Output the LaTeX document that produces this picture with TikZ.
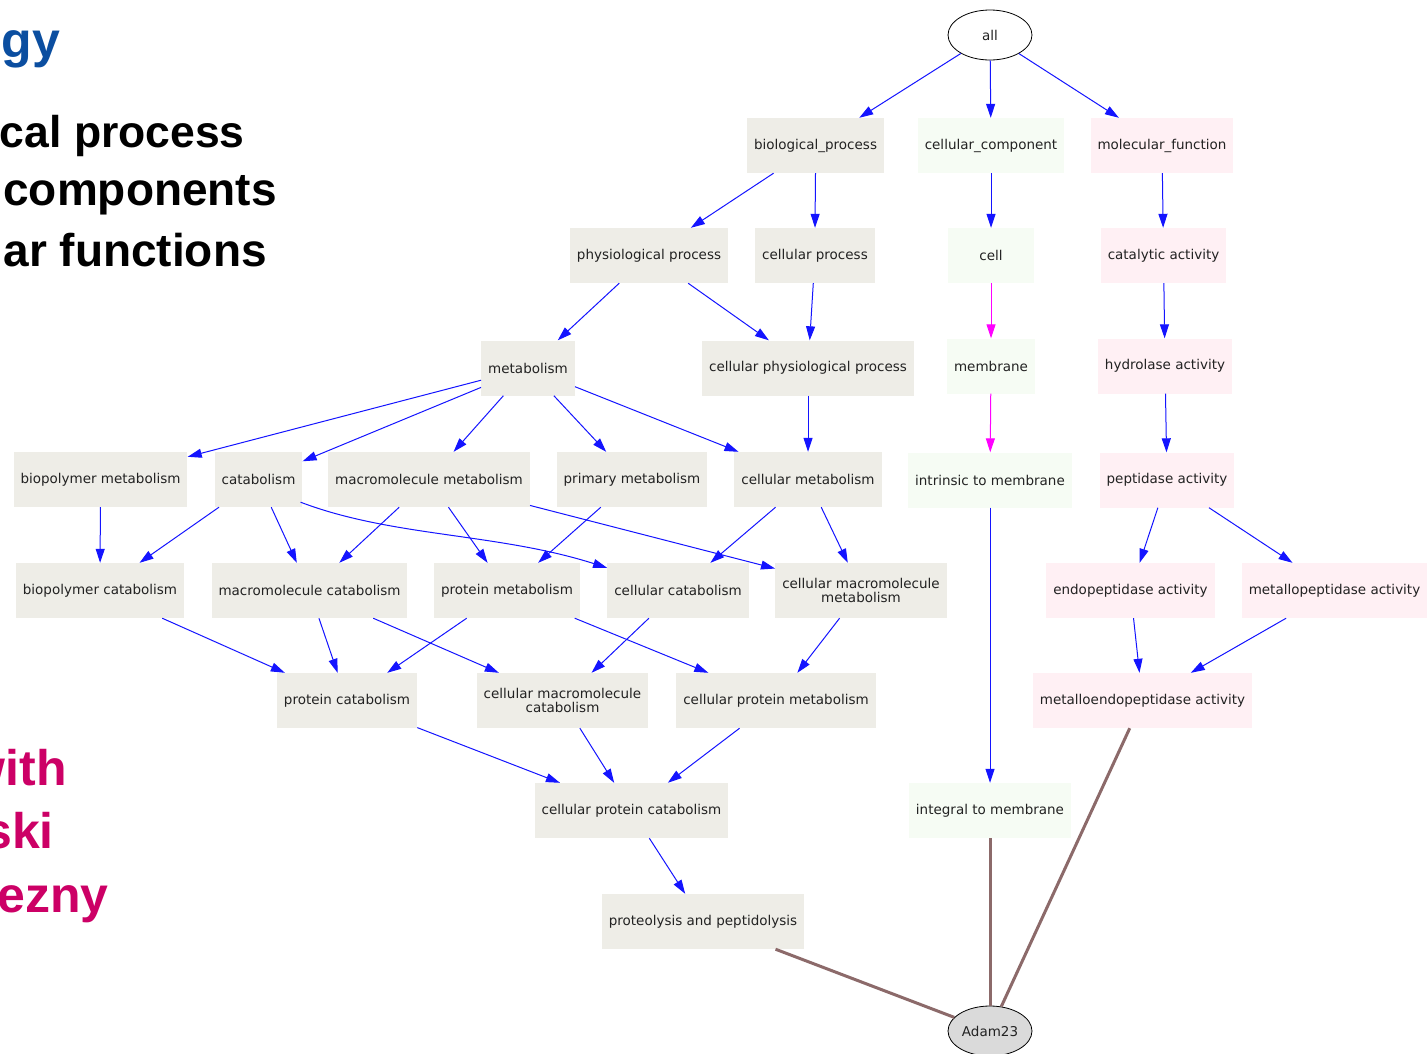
\documentclass[tikz,border=0pt]{standalone}
\usepackage{fontspec}
\newfontfamily\nodefont{DejaVu Sans}
\newfontfamily\slidefont{Liberation Sans}
\usetikzlibrary{arrows.meta,shapes.geometric,calc}
\definecolor{boxgray}{RGB}{238,237,231}
\definecolor{boxgreen}{RGB}{246,252,244}
\definecolor{boxpink}{RGB}{255,240,244}
\definecolor{edgeblue}{RGB}{20,20,255}
\definecolor{edgemag}{RGB}{255,0,255}
\definecolor{edgebrown}{RGB}{140,106,106}
\definecolor{slideblue}{RGB}{11,78,160}
\definecolor{slidemag}{RGB}{204,0,102}
\definecolor{textgray}{RGB}{34,34,34}
\definecolor{adamgray}{RGB}{218,218,218}
\tikzset{
  term/.style={rectangle, fill=boxgray, minimum width=86pt, minimum height=55pt,
    inner xsep=7pt, inner ysep=2pt, text=textgray, align=center,
    font=\nodefont\fontsize{13.5}{14.5}\selectfont},
  greenterm/.style={term, fill=boxgreen},
  pinkterm/.style={term, fill=boxpink},
  oval/.style={ellipse, draw=black, line width=0.8pt, minimum width=84pt, minimum height=50pt,
    inner sep=0pt, text=textgray, font=\nodefont\fontsize{13.5}{14.5}\selectfont},
  isa/.style={draw=edgeblue, line width=1pt, -{Triangle[length=14pt,width=9pt]}},
  partof/.style={draw=edgemag, line width=1pt, -{Triangle[length=14pt,width=9pt]}},
  annot/.style={draw=edgebrown, line width=3pt},
  slidetext/.style={inner sep=0pt, anchor=base east, font=\slidefont\bfseries\fontsize{46}{46}\selectfont},
  slidebig/.style={slidetext, font=\slidefont\bfseries\fontsize{50}{50}\selectfont}
}
\begin{document}
\begin{tikzpicture}[x=1pt,y=-1pt]
\useasboundingbox[fill=white] (0,0) rectangle (1427,1053);

% slide text (clipped at the left edge, as in the reference)
\node[slidebig, text=slideblue] (s1) at (60,57) {gy};
\node[slidetext, font=\slidefont\bfseries\fontsize{44.5}{46}\selectfont] (s2) at (245,147) {cal process};
\node[slidetext] (s3) at (277,205) {components};
\node[slidetext] (s4) at (267,266) {ar functions};
\node[slidebig, text=slidemag] (s5) at (67,785) {with};
\node[slidebig, text=slidemag] (s6) at (54,848) {ski};
\node[slidebig, text=slidemag] (s7) at (109,912) {ezny};

% nodes
\node[oval, fill=white] (all) at (990,35) {all};
\node[term] (bp) at (815.5,145.5) {biological\_process};
\node[greenterm] (cc) at (991,145.5) {cellular\_component};
\node[pinkterm] (mf) at (1162,145.5) {molecular\_function};

\node[term] (phys) at (649,255.5) {physiological process};
\node[term] (cproc) at (815,255.5) {cellular process};
\node[greenterm] (cell) at (991,255.5) {cell};
\node[pinkterm] (cat) at (1163.5,255.5) {catalytic activity};

\node[term] (met) at (528,368) {metabolism};
\node[term] (cpp) at (808,368) {cellular physiological process};
\node[greenterm] (mem) at (991,366) {membrane};
\node[pinkterm] (hyd) at (1165,366) {hydrolase activity};

\node[term] (bpm) at (100.5,479.5) {biopolymer metabolism};
\node[term] (cata) at (258.5,479.5) {catabolism};
\node[term] (mmm) at (429,479.5) {macromolecule metabolism};
\node[term] (pm) at (632,479.5) {primary metabolism};
\node[term] (cm) at (808,479.5) {cellular metabolism};
\node[greenterm] (itm) at (990,480) {intrinsic to membrane};
\node[pinkterm] (pep) at (1167,480) {peptidase activity};

\node[term] (bpc) at (100,590.5) {biopolymer catabolism};
\node[term] (mmc) at (309.5,590.5) {macromolecule catabolism};
\node[term] (prm) at (507,590.5) {protein metabolism};
\node[term] (ccat) at (678,590.5) {cellular catabolism};
\node[term] (cmm) at (861,590.5) {cellular macromolecule\\metabolism};
\node[pinkterm] (endo) at (1130.5,590.5) {endopeptidase activity};
\node[pinkterm] (metp) at (1334.5,590.5) {metallopeptidase activity};

\node[term] (pc) at (347,700.5) {protein catabolism};
\node[term] (cmc) at (562.5,700.5) {cellular macromolecule\\catabolism};
\node[term] (cpm) at (776,700.5) {cellular protein metabolism};
\node[pinkterm] (mend) at (1142.5,700.5) {metalloendopeptidase activity};

\node[term] (cpc) at (631.5,810.5) {cellular protein catabolism};
\node[greenterm] (int) at (990,810.5) {integral to membrane};

\node[term] (prot) at (703,921.5) {proteolysis and peptidolysis};

\node[oval, fill=adamgray] (adam) at (990,1031) {Adam23};

% is-a edges
\draw[isa] (all) -- (bp);
\draw[isa] (all) -- (cc);
\draw[isa] (all) -- (mf);
\draw[isa] (bp) -- (phys);
\draw[isa] (bp.south) -- (cproc.north);
\draw[isa] (cc) -- (cell);
\draw[isa] (mf) -- (cat);
\draw[isa] (phys) -- (met);
\draw[isa] (phys) -- (cpp);
\draw[isa] (cproc) -- (cpp);
\draw[partof] (cell) -- (mem);
\draw[isa] (cat) -- (hyd);
\draw[isa] (met) -- (bpm);
\draw[isa] (met) -- (cata);
\draw[isa] (met) -- (mmm);
\draw[isa] (met) -- (pm);
\draw[isa] (met) -- (cm);
\draw[isa] (cpp) -- (cm);
\draw[partof] (mem) -- (itm);
\draw[isa] (hyd) -- (pep);
\draw[isa] (bpm) -- (bpc);
\draw[isa] (cata) -- (bpc);
\draw[isa] (cata) -- (mmc);
\draw[isa] ($(cata.south east)+(-2,-5)$) .. controls ($(cata.south east)+(90,30)$) and ($(ccat.north west)+(-110,-30)$) .. ($(ccat.north west)+(0,5)$);
\draw[isa] (mmm) -- (mmc);
\draw[isa] (mmm) -- (prm);
\draw[isa] (mmm) -- (cmm);
\draw[isa] (pm) -- (prm);
\draw[isa] (cm) -- (ccat);
\draw[isa] (cm) -- (cmm);
\draw[isa] (itm) -- (int);
\draw[isa] (pep) -- (endo);
\draw[isa] (pep) -- (metp);
\draw[isa] (bpc) -- (pc);
\draw[isa] (mmc) -- (pc);
\draw[isa] (mmc) -- (cmc);
\draw[isa] (prm) -- (pc);
\draw[isa] (prm) -- (cpm);
\draw[isa] (ccat) -- (cmc);
\draw[isa] (cmm) -- (cpm);
\draw[isa] (endo) -- (mend);
\draw[isa] (metp) -- (mend);
\draw[isa] (pc) -- (cpc);
\draw[isa] (cmc) -- (cpc);
\draw[isa] (cpm) -- (cpc);
\draw[isa] (cpc) -- (prot);

% annotation edges
\draw[annot] (prot) -- (adam);
\draw[annot] (int) -- (adam);
\draw[annot] (mend) -- (adam);
\end{tikzpicture}
\end{document}
